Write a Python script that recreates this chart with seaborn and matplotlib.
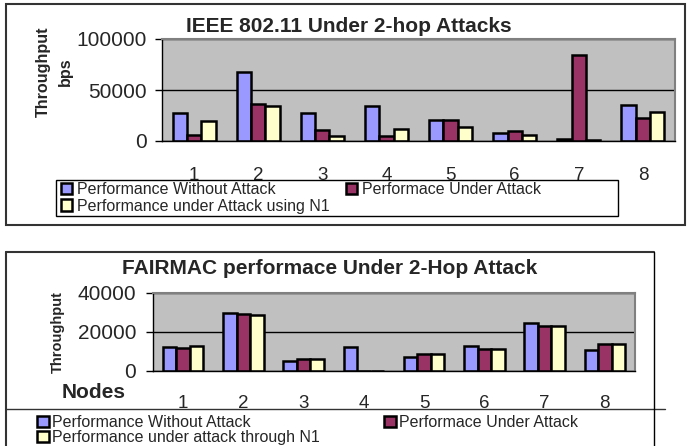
import numpy as np
import pandas as pd
import matplotlib
matplotlib.use("Agg")
import matplotlib.pyplot as plt
import seaborn as sns
from matplotlib.patches import Rectangle
from matplotlib.lines import Line2D

# Node labels shared by both charts
nodes = ['1', '2', '3', '4', '5', '6', '7', '8']

# IEEE 802.11 throughput (bps)
ieee_without = [27000, 68000, 27000, 34000, 21000, 7500, 2000, 35000]
ieee_under = [5500, 36500, 10500, 4500, 20500, 10000, 84500, 23000]
ieee_n1 = [20000, 34000, 4500, 12000, 13500, 5500, 600, 28500]
ieee_names = ['Performance Without Attack', 'Performace Under Attack',
              'Performance under Attack using N1']

# FAIRMAC throughput
fair_without = [12100, 29700, 5000, 12100, 6900, 12700, 24400, 10600]
fair_under = [11600, 29200, 6300, 0, 8700, 11100, 22900, 13900]
fair_n1 = [12700, 28500, 6300, 0, 8700, 11100, 22900, 13900]
fair_names = ['Performance Without Attack', 'Performace Under Attack',
              'Performance under attack through N1']

colors = ['#9999FF', '#993366', '#FFFFCC']

sns.set_style('white')
plt.rcParams['font.family'] = ['Liberation Sans', 'DejaVu Sans']

W, H = 687, 446
def fx(px):
    return px / W
def fy(py):
    return 1 - py / H

def long_df(series, names):
    rows = []
    for name, vals in zip(names, series):
        for n, v in zip(nodes, vals):
            rows.append({'Node': n, 'Throughput': v, 'Series': name})
    return pd.DataFrame(rows)

def draw(ax, df, names, ymax, step, lab_pad, ylab_pad):
    sns.barplot(data=df, x='Node', y='Throughput', hue='Series', hue_order=names,
                palette=colors, width=0.67, edgecolor='black', linewidth=1.8,
                saturation=1, ax=ax, legend=True)
    ax.set_facecolor('#C0C0C0')
    ax.set_ylim(0, ymax)
    ax.set_xlim(-0.5, 7.5)
    ax.set_yticks(np.arange(0, ymax + 1, step))
    ax.set_yticklabels([str(int(v)) for v in np.arange(0, ymax + 1, step)], fontsize=15)
    ax.yaxis.grid(True, color='black', linewidth=1)
    ax.set_axisbelow(True)
    ax.set_xlabel('')
    ax.set_ylabel('')
    ax.set_xticks(range(8))
    ax.set_xticklabels(nodes, fontsize=13.5)
    ax.set_xticks(np.arange(-0.5, 8, 1), minor=True)
    ax.tick_params(axis='x', which='major', length=0, pad=lab_pad)
    ax.tick_params(axis='x', which='minor', length=5, width=1, direction='out', color='black')
    ax.tick_params(axis='y', length=5, width=1, direction='out', left=True, color='black', pad=ylab_pad)
    for s in ['left', 'bottom']:
        ax.spines[s].set_color('black')
        ax.spines[s].set_linewidth(1)
    for s in ['top', 'right']:
        ax.spines[s].set_color('#808080')
        ax.spines[s].set_linewidth(1.5)
    handles, labels = ax.get_legend_handles_labels()
    ax.get_legend().remove()
    return handles, labels

fig = plt.figure(figsize=(6.87, 4.46), dpi=100)

# ---- top chart ----
ax1 = fig.add_axes([fx(162), fy(141), fx(675) - fx(162), fy(39) - fy(141)])
h1, l1 = draw(ax1, long_df([ieee_without, ieee_under, ieee_n1], ieee_names), ieee_names,
              100000, 50000, 18.5, 5.8)
fig.text(fx(349), fy(27), 'IEEE 802.11 Under 2-hop Attacks', fontsize=15,
         fontweight='bold', ha='center', va='center')
fig.text(fx(43), fy(72), 'Throughput', fontsize=11.6, fontweight='bold',
         rotation=90, ha='center', va='center')
fig.text(fx(65), fy(72), 'bps', fontsize=11.6, fontweight='bold',
         rotation=90, ha='center', va='center')
order = [0, 2, 1]
leg1 = fig.legend([h1[i] for i in order], [l1[i] for i in order], ncol=2,
                  loc='upper left', bbox_to_anchor=(fx(61), fy(182)),
                  bbox_transform=fig.transFigure, frameon=False, fontsize=11.5,
                  handlelength=0.7, handleheight=0.7, handletextpad=0.3,
                  columnspacing=1.0, labelspacing=0.1, borderpad=0, borderaxespad=0)
fig.add_artist(Rectangle((fx(56), fy(216)), fx(618) - fx(56), fy(180) - fy(216),
                         transform=fig.transFigure, fill=False, ec='black', lw=1))
fig.add_artist(Rectangle((fx(6), fy(225)), fx(685) - fx(6), fy(4) - fy(225),
                         transform=fig.transFigure, fill=False, ec='#333333', lw=1.5))

# ---- bottom chart ----
ax2 = fig.add_axes([fx(153), fy(371), fx(635) - fx(153), fy(292.7) - fy(371)])
h2, l2 = draw(ax2, long_df([fair_without, fair_under, fair_n1], fair_names), fair_names,
              40000, 20000, 17, 7)
fig.text(fx(330), fy(269), 'FAIRMAC performace Under 2-Hop Attack', fontsize=15,
         fontweight='bold', ha='center', va='center')
fig.text(fx(58), fy(332), 'Throughput', fontsize=10.5, fontweight='bold',
         rotation=90, ha='center', va='center')
fig.text(fx(94), fy(393), 'Nodes', fontsize=15, fontweight='bold',
         ha='center', va='center')
leg2 = fig.legend([h2[i] for i in order], [l2[i] for i in order], ncol=2,
                  loc='upper left', bbox_to_anchor=(fx(37), fy(415)),
                  bbox_transform=fig.transFigure, frameon=False, fontsize=11.5,
                  handlelength=0.75, handleheight=0.75, handletextpad=0.2,
                  columnspacing=4.0, labelspacing=0.0, borderpad=0, borderaxespad=0)
fig.add_artist(Line2D([fx(6), fx(665)], [fy(409), fy(409)], transform=fig.transFigure,
                      color='#333333', lw=1))
fig.add_artist(Line2D([fx(6), fx(6)], [fy(252), fy(446)], transform=fig.transFigure,
                      color='#333333', lw=1.5))
fig.add_artist(Line2D([fx(6), fx(654)], [fy(252), fy(252)], transform=fig.transFigure,
                      color='#333333', lw=1.5))
fig.add_artist(Line2D([fx(654), fx(654)], [fy(252), fy(446)], transform=fig.transFigure,
                      color='black', lw=1))

fig.savefig('out.png', dpi=100)
